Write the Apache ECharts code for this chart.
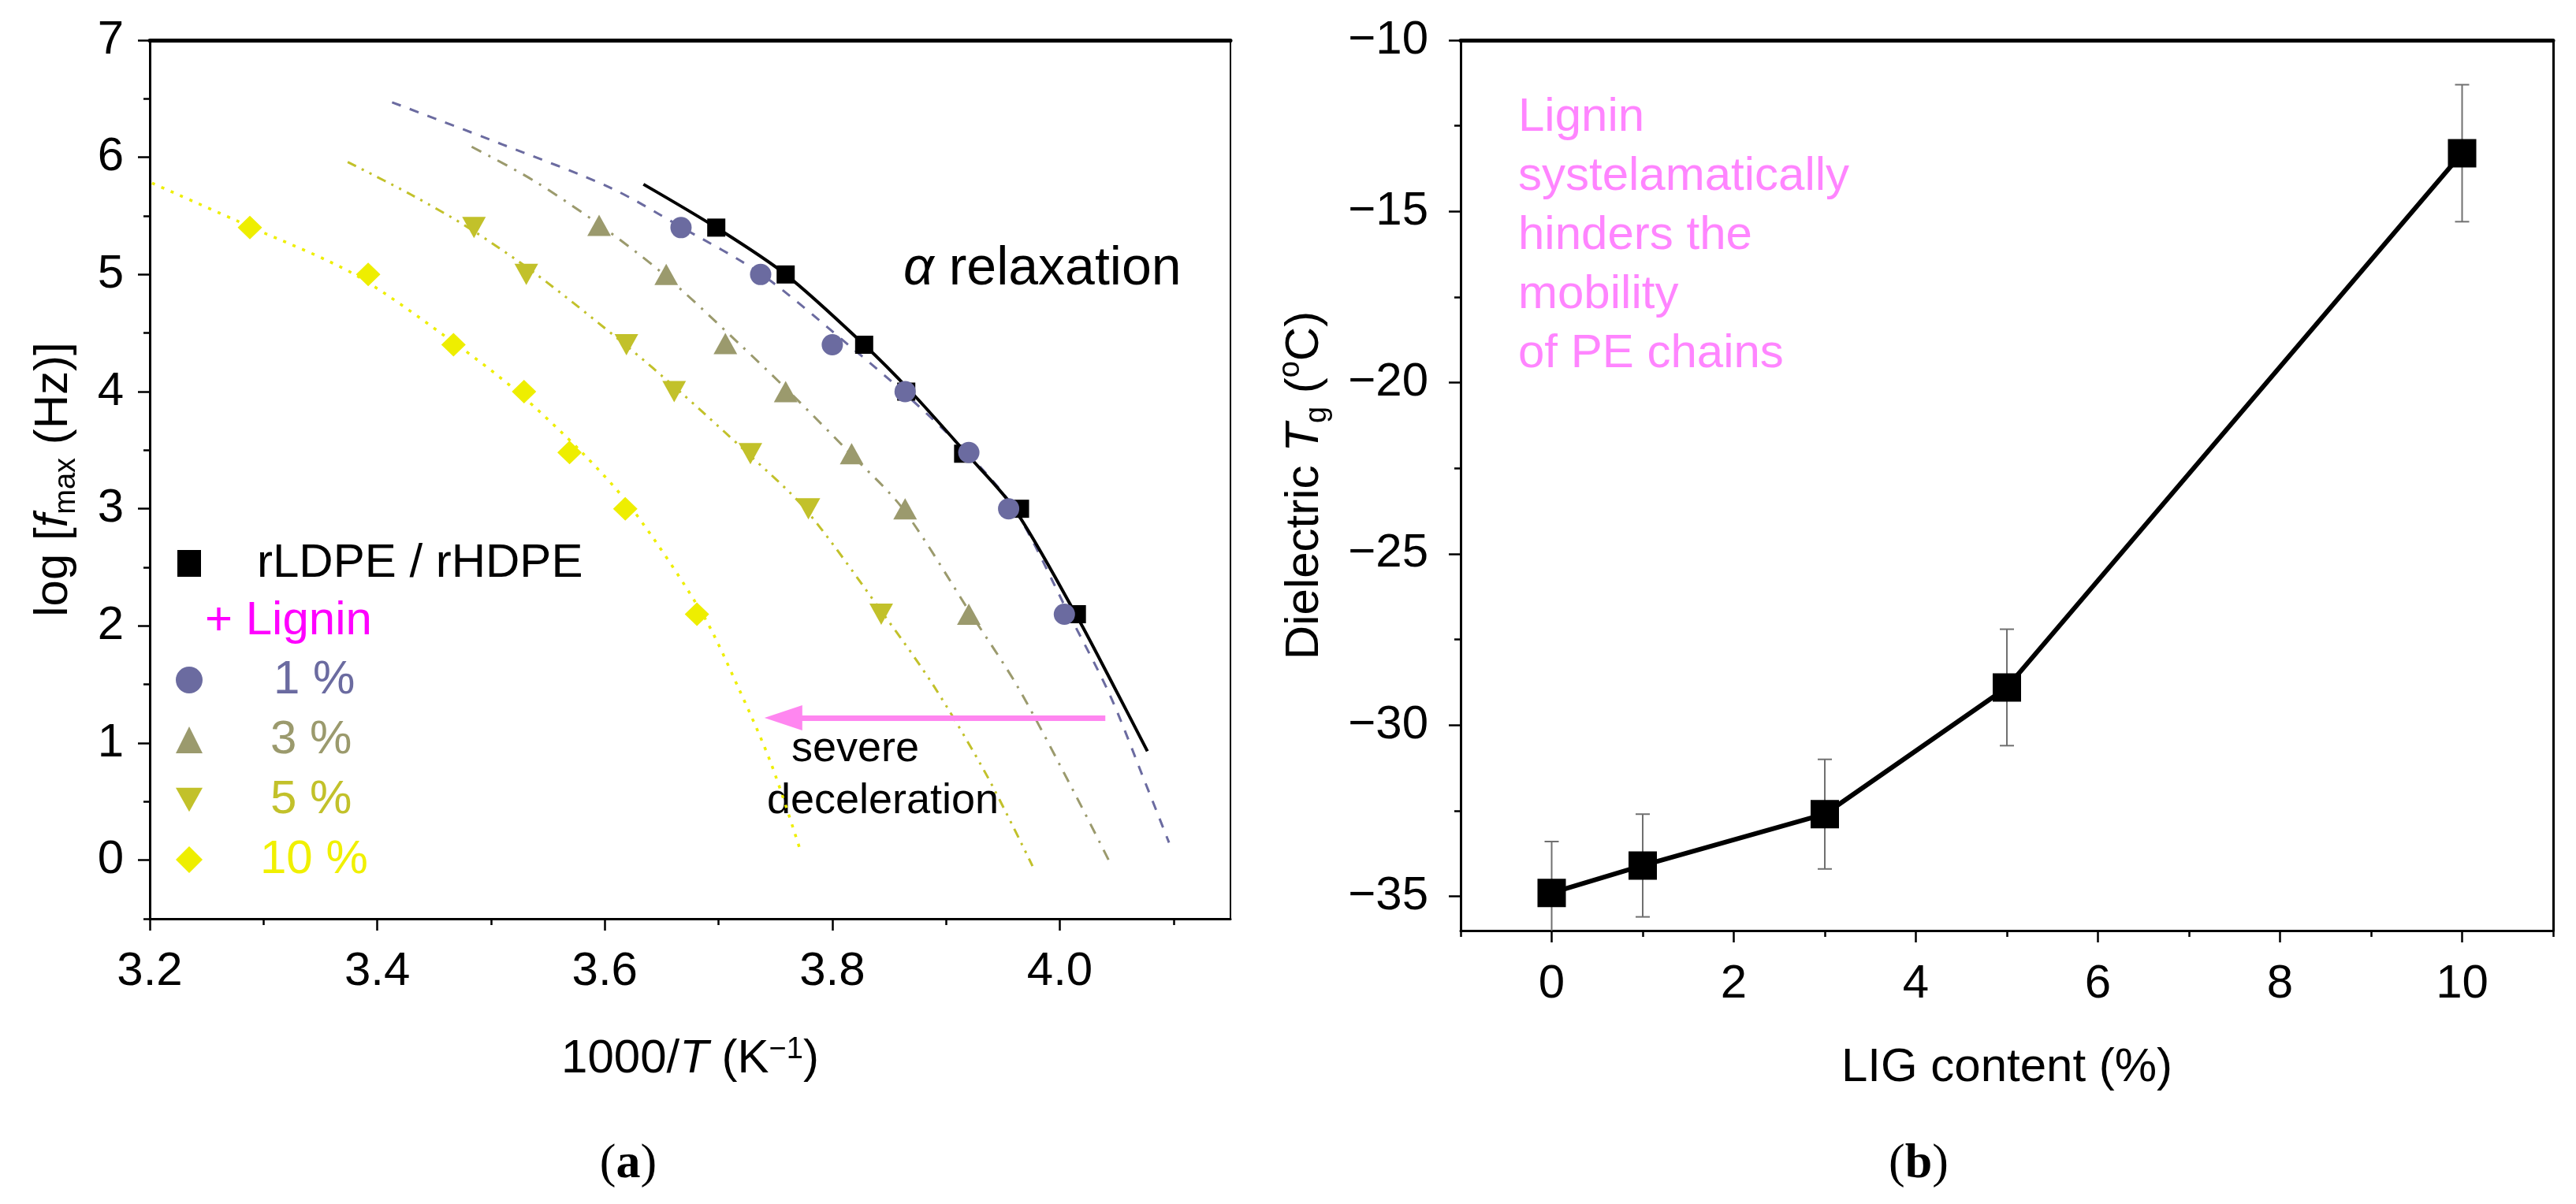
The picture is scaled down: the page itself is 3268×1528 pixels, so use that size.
<!DOCTYPE html>
<html>
<head>
<meta charset="utf-8">
<title>Lignin / PE dielectric relaxation</title>
<script src="https://cdn.jsdelivr.net/npm/echarts@6/dist/echarts.min.js"></script>
<style>
  html, body { margin: 0; padding: 0; background: #fff; }
  #chart { width: 3268px; height: 1528px; }
</style>
</head>
<body>
<div id="chart"></div>
<script>
// ---------- panel (a): peak frequency vs 1000/T ----------
var pureX = [3.698, 3.759, 3.828, 3.865, 3.915, 3.965, 4.015];
var pureY = [5.4, 5.0, 4.4, 4.0, 3.47, 3.0, 2.1];
var lig1X = [3.667, 3.737, 3.800, 3.864, 3.920, 3.955, 4.004];
var lig1Y = [5.4, 5.0, 4.4, 4.0, 3.48, 3.0, 2.1];
var lig3X = [3.595, 3.654, 3.706, 3.759, 3.817, 3.864, 3.920];
var lig3Y = [5.42, 5.0, 4.41, 4.0, 3.47, 3.0, 2.1];
var lig5X = [3.485, 3.531, 3.619, 3.661, 3.728, 3.779, 3.843];
var lig5Y = [5.4, 5.0, 4.4, 4.0, 3.47, 3.0, 2.1];
var lig10X = [3.288, 3.392, 3.467, 3.529, 3.569, 3.618, 3.681];
var lig10Y = [5.4, 5.0, 4.4, 4.0, 3.48, 3.0, 2.1];

// fitted curves
var fitPureX = [3.634, 3.698, 3.759, 3.828, 3.869, 3.918, 3.960, 4.014, 4.044, 4.077];
var fitPureY = [5.77, 5.40, 5.00, 4.40, 4.00, 3.47, 3.00, 2.10, 1.55, 0.93];
var fit1X = [3.413, 3.510, 3.605, 3.668, 3.738, 3.814, 3.862, 3.918, 3.960, 4.008, 4.044, 4.076, 4.096];
var fit1Y = [6.47, 6.11, 5.74, 5.40, 5.00, 4.40, 4.00, 3.48, 3.00, 2.10, 1.41, 0.64, 0.15];
var fit3X = [3.483, 3.536, 3.596, 3.652, 3.718, 3.762, 3.816, 3.862, 3.922, 3.963, 4.012, 4.043];
var fit3Y = [6.09, 5.81, 5.42, 5.00, 4.41, 4.00, 3.47, 3.00, 2.10, 1.48, 0.59, 0.00];
var fit5X = [3.374, 3.430, 3.480, 3.540, 3.618, 3.666, 3.726, 3.776, 3.845, 3.889, 3.936, 3.976];
var fit5Y = [5.96, 5.68, 5.40, 5.00, 4.40, 4.00, 3.47, 3.00, 2.10, 1.49, 0.72, -0.05];
var fit10X = [3.202, 3.290, 3.380, 3.470, 3.523, 3.580, 3.624, 3.686, 3.718, 3.746, 3.772];
var fit10Y = [5.78, 5.40, 5.00, 4.40, 4.00, 3.48, 3.00, 2.10, 1.46, 0.83, 0.08];

var arrowFrom = [4.04, 1.215];
var arrowTo = [3.757, 1.215];

var aXTicks = [3.2, 3.4, 3.6, 3.8, 4.0];
var aXMinor = [3.3, 3.5, 3.7, 3.9, 4.1];
var aYTicks = [0, 1, 2, 3, 4, 5, 6, 7];
var aYMinor = [-0.5, 0.5, 1.5, 2.5, 3.5, 4.5, 5.5, 6.5];

// ---------- panel (b): dielectric Tg vs lignin content ----------
var ligContent = [0, 1, 3, 5, 10];
var tgValues = [-34.9, -34.1, -32.6, -28.9, -13.3];
var tgError = [1.5, 1.5, 1.6, 1.7, 2.0];

var bXTicks = [0, 2, 4, 6, 8, 10];
var bXMinor = [-1, 1, 3, 5, 7, 9, 11];
var bYTicks = [-35, -30, -25, -20, -15, -10];
var bYMinor = [-32.5, -27.5, -22.5, -17.5, -12.5];

var SANS = '"Liberation Sans", Arial, sans-serif';
var SERIF = '"Liberation Serif", "Times New Roman", serif';
var cPure = '#000000', c1 = '#6b6ba0', c3 = '#9b9a6d', c5 = '#c2c12a', c10 = '#eeee00';
var downTri = 'path://M0,0 L20,0 L10,18 Z';

function zip(xs, ys) {
  return xs.map(function (x, i) { return [x, ys[i]]; });
}

var chart = echarts.init(document.getElementById('chart'));

function tickAxis(grid, min, max, values, len, pos) {
  return {
    type: 'value', gridIndex: grid, min: min, max: max, position: pos,
    axisLine: { show: false, onZero: false },
    axisTick: { show: true, customValues: values, length: len, lineStyle: { color: '#000', width: 2.5 } },
    axisLabel: { show: false },
    splitLine: { show: false }
  };
}
function frameAxis(grid, min, max, pos, width) {
  return {
    type: 'value', gridIndex: grid, min: min, max: max, position: pos,
    axisLine: { show: true, onZero: false, lineStyle: { color: '#000', width: width } },
    axisTick: { show: false }, axisLabel: { show: false }, splitLine: { show: false }
  };
}

var nameStyle = {
  fontSize: 60, fontFamily: SANS, color: '#000',
  rich: {
    i: { fontSize: 60, fontFamily: SANS, fontStyle: 'italic' },
    sup: { fontSize: 38, fontFamily: SANS, verticalAlign: 'top' },
    sub: { fontSize: 38, fontFamily: SANS, verticalAlign: 'top', padding: [34, 0, 0, 0] }
  }
};
var tickLabel = { fontSize: 60, fontFamily: SANS, color: '#000' };

function lineFit(name, xs, ys, color, width, type) {
  return {
    name: name, type: 'line', xAxisIndex: 0, yAxisIndex: 0,
    data: zip(xs, ys), symbol: 'none', smooth: 0.3, silent: true, z: 2,
    lineStyle: { color: color, width: width, type: type }
  };
}
function points(name, xs, ys, color, symbol, size) {
  return {
    name: name, type: 'scatter', xAxisIndex: 0, yAxisIndex: 0,
    data: zip(xs, ys), symbol: symbol, symbolSize: size, z: 3,
    itemStyle: { color: color, opacity: 1 }
  };
}

var fit10 = lineFit('fit 10', fit10X, fit10Y, c10, 3.5, [4, 9]);
fit10.markLine = {
  silent: true, animation: false,
  symbol: ['none', 'triangle'], symbolSize: [32, 48],
  label: { show: false },
  lineStyle: { color: '#ff86f0', width: 7, type: 'solid' },
  data: [[{ coord: arrowFrom }, { coord: arrowTo }]]
};

var option = {
  animation: false,
  backgroundColor: '#fff',
  grid: [
    { left: 190, top: 51, width: 1371, height: 1115 },
    { left: 1853, top: 51, width: 1386, height: 1130 }
  ],
  xAxis: [
    {
      type: 'value', gridIndex: 0, min: 3.2, max: 4.15, position: 'bottom',
      name: '1000/{i|T} (K{sup|−1})', nameLocation: 'middle', nameGap: 148, nameTextStyle: nameStyle,
      axisLine: { show: true, onZero: false, lineStyle: { color: '#000', width: 3 } },
      axisTick: { show: true, customValues: aXTicks, length: 15, lineStyle: { color: '#000', width: 2.5 } },
      axisLabel: Object.assign({ customValues: aXTicks, margin: 37, formatter: function (v) { return v.toFixed(1); } }, tickLabel),
      splitLine: { show: false }
    },
    tickAxis(0, 3.2, 4.15, aXMinor, 8, 'bottom'),
    frameAxis(0, 3.2, 4.15, 'top', 5),
    {
      type: 'value', gridIndex: 1, min: -1, max: 11, position: 'bottom',
      name: 'LIG content (%)', nameLocation: 'middle', nameGap: 144, nameTextStyle: nameStyle,
      axisLine: { show: true, onZero: false, lineStyle: { color: '#000', width: 3 } },
      axisTick: { show: true, customValues: bXTicks, length: 15, lineStyle: { color: '#000', width: 2.5 } },
      axisLabel: Object.assign({ customValues: bXTicks, margin: 38 }, tickLabel),
      splitLine: { show: false }
    },
    tickAxis(1, -1, 11, bXMinor, 8, 'bottom'),
    frameAxis(1, -1, 11, 'top', 5)
  ],
  yAxis: [
    {
      type: 'value', gridIndex: 0, min: -0.5, max: 7, position: 'left',
      name: 'log [{i|f}{sub|max} (Hz)]', nameLocation: 'middle', nameGap: 86, nameTextStyle: nameStyle,
      axisLine: { show: true, onZero: false, lineStyle: { color: '#000', width: 3 } },
      axisTick: { show: true, customValues: aYTicks, length: 15, lineStyle: { color: '#000', width: 2.5 } },
      axisLabel: Object.assign({ customValues: aYTicks, margin: 33 }, tickLabel),
      splitLine: { show: false }
    },
    tickAxis(0, -0.5, 7, aYMinor, 8, 'left'),
    frameAxis(0, -0.5, 7, 'right', 2),
    {
      type: 'value', gridIndex: 1, min: -36, max: -10, position: 'left',
      name: 'Dielectric {i|T}{sub|g} ({sup|o}C)', nameLocation: 'middle', nameGap: 162, nameTextStyle: nameStyle,
      axisLine: { show: true, onZero: false, lineStyle: { color: '#000', width: 3 } },
      axisTick: { show: true, customValues: bYTicks, length: 15, lineStyle: { color: '#000', width: 2.5 } },
      axisLabel: Object.assign({ customValues: bYTicks, margin: 41, formatter: function (v) { return String(v).replace('-', '−'); } }, tickLabel),
      splitLine: { show: false }
    },
    tickAxis(1, -36, -10, bYMinor, 8, 'left'),
    frameAxis(1, -36, -10, 'right', 3)
  ],
  legend: [
    {
      orient: 'vertical', left: 225, top: 685, padding: 0, itemGap: 16,
      itemWidth: 30, itemHeight: 34, selectedMode: false,
      textStyle: { fontSize: 60, fontFamily: SANS },
      data: [{ name: 'rLDPE / rHDPE', icon: 'rect', textStyle: { color: '#000', padding: [0, 0, 0, 66] } }]
    },
    {
      orient: 'vertical', left: 223, top: 833, padding: 0, itemGap: 16,
      itemWidth: 34, itemHeight: 34, selectedMode: false,
      textStyle: { fontSize: 60, fontFamily: SANS },
      data: [
        { name: '1 %', icon: 'circle', textStyle: { color: c1, padding: [0, 0, 0, 85] } },
        { name: '3 %', icon: 'triangle', textStyle: { color: c3, padding: [0, 0, 0, 81] } },
        { name: '5 %', icon: downTri, textStyle: { color: c5, padding: [0, 0, 0, 81] } },
        { name: '10 %', icon: 'diamond', textStyle: { color: '#f0f000', padding: [0, 0, 0, 68] } }
      ]
    }
  ],
  graphic: [
    { type: 'text', style: { text: '+ Lignin', x: 260, y: 788, fill: '#ff00ff', fontSize: 60, fontFamily: SANS, align: 'left', verticalAlign: 'middle' } },
    { type: 'text', style: { text: '{i|α} relaxation', x: 1146, y: 342, fill: '#000', fontSize: 68, fontFamily: SANS, align: 'left', verticalAlign: 'middle',
      rich: { i: { fontStyle: 'italic', fontSize: 68, fontFamily: SANS } } } },
    { type: 'text', style: { text: 'severe', x: 1085, y: 951, fill: '#000', fontSize: 54, fontFamily: SANS, align: 'center', verticalAlign: 'middle' } },
    { type: 'text', style: { text: 'deceleration', x: 1120, y: 1017, fill: '#000', fontSize: 54, fontFamily: SANS, align: 'center', verticalAlign: 'middle' } },
    { type: 'text', style: { text: 'Lignin\nsystelamatically\nhinders the\nmobility\nof PE chains', x: 1926, y: 112,
      fill: '#ff85ff', fontSize: 60, lineHeight: 75, fontFamily: SANS, align: 'left', verticalAlign: 'top' } },
    { type: 'text', style: { text: '({b|a})', x: 797, y: 1478, fill: '#000', fontSize: 62, fontFamily: SERIF, align: 'center', verticalAlign: 'middle',
      rich: { b: { fontWeight: 'bold', fontSize: 62, fontFamily: SERIF } } } },
    { type: 'text', style: { text: '({b|b})', x: 2434, y: 1478, fill: '#000', fontSize: 62, fontFamily: SERIF, align: 'center', verticalAlign: 'middle',
      rich: { b: { fontWeight: 'bold', fontSize: 62, fontFamily: SERIF } } } }
  ],
  series: [
    fit10,
    lineFit('fit 5', fit5X, fit5Y, c5, 3, [12, 8, 3, 8, 3, 8]),
    lineFit('fit 3', fit3X, fit3Y, c3, 3, [14, 10, 3, 10]),
    lineFit('fit 1', fit1X, fit1Y, c1, 3, [12, 12]),
    lineFit('fit pure', fitPureX, fitPureY, cPure, 4, 'solid'),
    points('rLDPE / rHDPE', pureX, pureY, cPure, 'rect', [23, 23]),
    points('1 %', lig1X, lig1Y, c1, 'circle', 27),
    points('3 %', lig3X, lig3Y, c3, 'triangle', [30, 27]),
    points('5 %', lig5X, lig5Y, c5, downTri, [30, 27]),
    points('10 %', lig10X, lig10Y, c10, 'diamond', [31, 30]),
    {
      name: 'Tg error', type: 'custom', xAxisIndex: 3, yAxisIndex: 3, clip: true, silent: true, z: 2,
      data: ligContent.map(function (x, i) { return [x, tgValues[i] - tgError[i], tgValues[i] + tgError[i]]; }),
      renderItem: function (params, api) {
        var x = api.value(0);
        var lo = api.coord([x, api.value(1)]);
        var hi = api.coord([x, api.value(2)]);
        var cap = 9;
        var st = { stroke: '#707070', lineWidth: 2 };
        return {
          type: 'group', children: [
            { type: 'line', shape: { x1: lo[0], y1: lo[1], x2: hi[0], y2: hi[1] }, style: st },
            { type: 'line', shape: { x1: hi[0] - cap, y1: hi[1], x2: hi[0] + cap, y2: hi[1] }, style: st },
            { type: 'line', shape: { x1: lo[0] - cap, y1: lo[1], x2: lo[0] + cap, y2: lo[1] }, style: st }
          ]
        };
      }
    },
    {
      name: 'Tg', type: 'line', xAxisIndex: 3, yAxisIndex: 3, z: 3,
      data: zip(ligContent, tgValues),
      symbol: 'rect', symbolSize: 36,
      lineStyle: { color: '#000', width: 6 },
      itemStyle: { color: '#000' }
    }
  ]
};

chart.setOption(option);
window.addEventListener('resize', function () { chart.resize(); });
</script>
</body>
</html>
